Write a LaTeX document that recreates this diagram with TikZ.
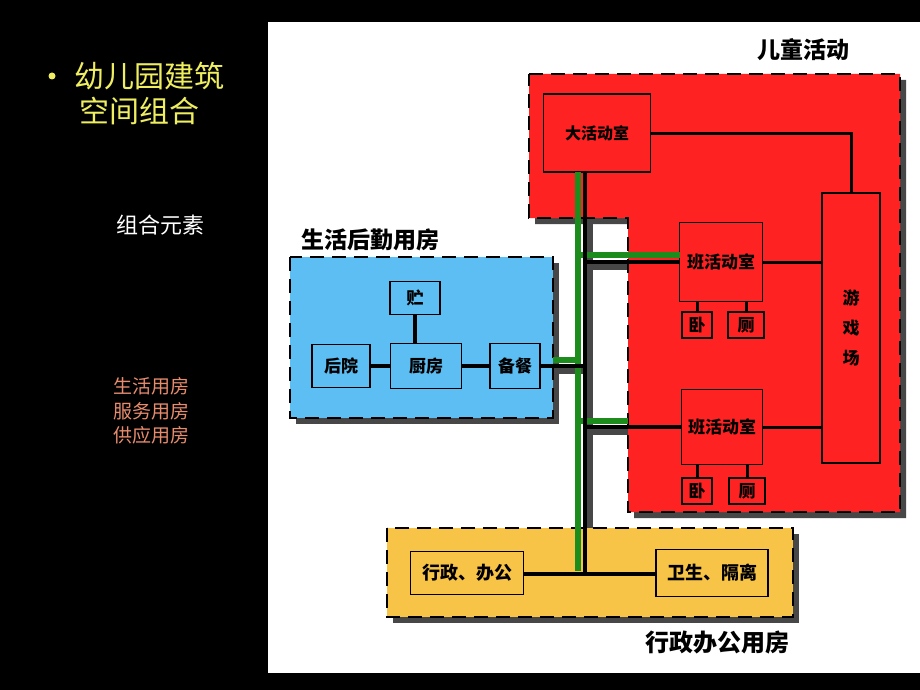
\documentclass[tikz,border=0pt]{standalone}
\usepackage{fontspec}
\newfontfamily\cjk{Noto Sans CJK SC}
\definecolor{kidred}{HTML}{FF2222}
\definecolor{serveblue}{HTML}{5CBEF2}
\definecolor{officeyellow}{HTML}{F8C448}
\definecolor{busgreen}{HTML}{1C8C1C}
\definecolor{titleyellow}{HTML}{EEEE60}
\definecolor{listorange}{HTML}{E88C6E}
\begin{document}
\begin{tikzpicture}[x=1pt,y=-1pt,
		room/.style={draw,line width=1.6pt,inner sep=0pt,font=\cjk\bfseries\fontsize{17}{20}\selectfont},
		zone/.style={draw,line width=1.8pt,dash pattern=on 14pt off 8pt},
		zonename/.style={font=\cjk\bfseries\fontsize{23}{26}\selectfont},
		shade/.style={fill=black!72},
		link/.style={line width=3pt},
		bus/.style={line width=4pt},
		stripe/.style={draw=busgreen,line width=6pt}]
	\useasboundingbox (0,0) rectangle (920,690);
	\fill[black] (0,0) rectangle (920,690);
	\fill[white] (268,22) rectangle (920,673);
	% left column
	\fill[titleyellow] (52,76) circle (3.5);
	\node[anchor=west,text=titleyellow,font=\cjk\fontsize{30}{34}\selectfont] (title1) at (71,76) {幼儿园建筑};
	\node[anchor=west,text=titleyellow,font=\cjk\fontsize{30}{34}\selectfont] (title2) at (76,111) {空间组合};
	\node[text=white,font=\cjk\fontsize{22}{26}\selectfont] (elem) at (160,225) {组合元素};
	\node[anchor=west,text=listorange,align=left,font=\cjk\fontsize{19}{24.5}\selectfont] (list) at (110,411) {生活用房\\服务用房\\供应用房};
	% shadows
	\fill[shade] (535,80) -- (906,80) -- (906,518) -- (634,518) -- (634,224) -- (535,224) -- cycle;
	\fill[shade] (296,263) rectangle (559,424);
	\fill[shade] (393,534) rectangle (799,623);
	\draw[black!72,line width=6pt] (589.5,222) -- (589.5,528);
	\draw[black!72,line width=6pt] (587,266.5) -- (628,266.5);
	\draw[black!72,line width=6pt] (587,431.5) -- (628,431.5);
	\draw[black!72,line width=6pt] (553,370.5) -- (585,370.5);
	% zones
	\filldraw[zone,fill=kidred] (529,74) -- (900,74) -- (900,512) -- (628,512) -- (628,218) -- (529,218) -- cycle;
	\filldraw[zone,fill=serveblue] (290,257) rectangle (553,418);
	\filldraw[zone,fill=officeyellow] (387,528) rectangle (793,617);
	\node[zonename] (kidlabel) at (803,50) {儿童活动};
	\node[zonename] (servelabel) at (370,240) {生活后勤用房};
	\node[zonename,font=\cjk\bfseries\fontsize{24}{28}\selectfont] (officelabel) at (717,643) {行政办公用房};
	% rooms
	\node[room,minimum width=107pt,minimum height=78pt,font=\cjk\bfseries\fontsize{16}{20}\selectfont] (big) at (597,133) {大活动室};
	\node[room,minimum width=58pt,minimum height=270pt,align=center,font=\cjk\bfseries\fontsize{17}{30}\selectfont] (play) at (851,328) {游\\戏\\场};
	\node[room,minimum width=83pt,minimum height=79pt] (cls1) at (721,262) {班活动室};
	\node[room,minimum width=30pt,minimum height=26pt] (bed1) at (697,325) {卧};
	\node[room,minimum width=36pt,minimum height=26pt] (wc1) at (746,325) {厕};
	\node[room,minimum width=81pt,minimum height=75pt] (cls2) at (722,427) {班活动室};
	\node[room,minimum width=30pt,minimum height=26pt] (bed2) at (697,491) {卧};
	\node[room,minimum width=36pt,minimum height=26pt] (wc2) at (747,491) {厕};
	\node[room,minimum width=50pt,minimum height=33pt] (store) at (415,298) {贮};
	\node[room,minimum width=58pt,minimum height=43pt] (yard) at (341,366) {后院};
	\node[room,minimum width=71pt,minimum height=45pt] (kitchen) at (426,366) {厨房};
	\node[room,minimum width=50pt,minimum height=45pt] (serve) at (515,366) {备餐};
	\node[room,minimum width=113pt,minimum height=43pt,font=\cjk\bfseries\fontsize{18}{20}\selectfont] (admin) at (467,573) {行政、办公};
	\node[room,minimum width=112pt,minimum height=47pt,font=\cjk\bfseries\fontsize{18}{20}\selectfont] (health) at (712,573) {卫生、隔离};
	% bus
	\coordinate (busbot) at (585,574);
	\coordinate (b1) at (585,262);
	\coordinate (b2) at (585,427);
	\coordinate (b3) at (585,366);
	\draw[stripe] (578,172) -- (578,571);
	\draw[stripe] (578,255) -- (680,255);
	\draw[stripe] (578,421) -- (628,421);
	\draw[stripe] (553,360) -- (578,360);
	\draw[bus] (busbot |- big.south) -- (busbot);
	\draw[bus] (b1) -- (cls1.west |- b1);
	\draw[bus] (b2) -- (cls2.west |- b2);
	\draw[bus] (b3) -- (serve.east |- b3);
	\draw[bus] (admin.east |- busbot) -- (health.west |- busbot);
	% links
	\draw[link] (big.east) -- (big.east -| play) -- (play.north);
	\draw[link] (cls1.east) -- (cls1.east -| play.west);
	\draw[link] (cls2.east) -- (cls2.east -| play.west);
	\draw[link] (bed1.north) -- (bed1.north |- cls1.south);
	\draw[link] (wc1.north) -- (wc1.north |- cls1.south);
	\draw[link] (bed2.north) -- (bed2.north |- cls2.south);
	\draw[link] (wc2.north) -- (wc2.north |- cls2.south);
	\draw[bus] (store.south) -- (kitchen.north -| store.south);
	\draw[bus] (yard) -- (kitchen);
	\draw[bus] (kitchen) -- (serve);
\end{tikzpicture}
\end{document}
